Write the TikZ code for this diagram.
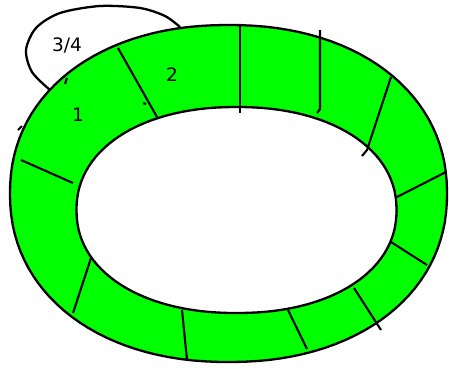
\documentclass[tikz,border=0pt]{standalone}
\usepackage{fontspec}
\setmainfont{DejaVu Sans}
\definecolor{ringgreen}{RGB}{0,255,0}
\begin{document}
\begin{tikzpicture}[x=1pt, y=-1pt,
  edge/.style={black, line width=2.3pt},
  cut/.style={black, line width=2.1pt},
  lbl/.style={font=\fontsize{18.5}{18.5}\selectfont, inner sep=0pt}]
  \useasboundingbox (0,0) rectangle (449,368);
  % ring
  \fill[ringgreen, even odd rule]
    plot[domain=0.5:360.5, samples=121, variable=\t]
      ({228.5+218.5*sign(cos(\t))*pow(abs(cos(\t)),0.93)}, {193.5-168.5*sign(sin(\t))*pow(abs(sin(\t)),0.93)}) -- cycle
    plot[domain=0.5:360.5, samples=121, variable=\t]
      ({236.5+160*sign(cos(\t))*pow(abs(cos(\t)),0.93)}, {210-103*sign(sin(\t))*pow(abs(sin(\t)),0.93)}) -- cycle;
  \draw[edge] plot[domain=0.5:360.5, samples=121, variable=\t]
      ({228.5+218.5*sign(cos(\t))*pow(abs(cos(\t)),0.93)}, {193.5-168.5*sign(sin(\t))*pow(abs(sin(\t)),0.93)}) -- cycle;
  \draw[edge] plot[domain=0.5:360.5, samples=121, variable=\t]
      ({236.5+160*sign(cos(\t))*pow(abs(cos(\t)),0.93)}, {210-103*sign(sin(\t))*pow(abs(sin(\t)),0.93)}) -- cycle;
  % dividers
  \draw[cut] (118,48) -- (157,117);
  \draw[cut] (143,103) -- (146,104);
  \draw[cut] (240,25) -- (240,113);
  \draw[cut] (320,30) -- (320,109) -- (317,113);
  \draw[cut] (391,77) -- (367,150) -- (362,156);
  \draw[cut] (446,172) -- (397,197);
  \draw[cut] (391,242) -- (427,265);
  \draw[cut] (354,288) -- (381,330);
  \draw[cut] (288,310) -- (307,349);
  \draw[cut] (182,310) -- (187,360);
  \draw[cut] (91,258) -- (73,313);
  \draw[cut] (21,160) -- (73,183);
  % small ticks
  \draw[cut] (67,78) -- (65,84);
  \draw[cut] (22,126) -- (18,130);
  % loop
  \draw[edge] plot[smooth] coordinates {(50,90) (32,72) (26,50) (36,28) (60,13) (100,6) (140,8) (165,16) (180,27)};
  % labels
  \node[lbl] (frac) at (67,45) {3/4};
  \node[lbl] (seg1) at (78,115) {1};
  \node[lbl] (seg2) at (172,75) {2};
\end{tikzpicture}
\end{document}
